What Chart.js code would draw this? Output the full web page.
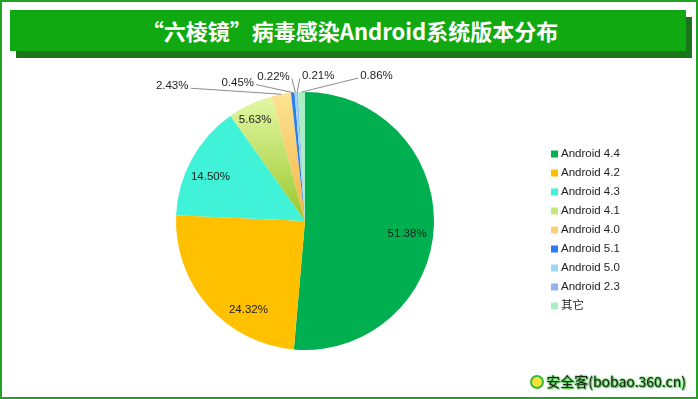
<!DOCTYPE html>
<html>
<head>
<meta charset="utf-8">
<script src="https://cdn.jsdelivr.net/npm/chart.js@4"></script>
<style>
body { margin: 0; }
#frame { position: relative; width: 698px; height: 399px; background: #fff; overflow: hidden;
  box-shadow: inset 0 0 0 2px #22a322; }
#shadow { position: absolute; left: 16px; top: 17px; width: 676px; height: 41px; background: #1b761b; }
#banner { position: absolute; left: 10px; top: 10px; width: 676px; height: 41px; background: #11a911;
  color: #fff; font: bold 22px "Noto Sans CJK SC", sans-serif; line-height: 41px; text-align: center; }
#banner span { position: relative; left: 2px; }
canvas { position: absolute; left: 0; top: 0; }
#mark { position: absolute; right: 12px; top: 371px; font: 14px "Noto Sans CJK SC", sans-serif; color: #222;
  text-shadow: 0 0 2px #3fbf3f, 0 0 2px #3fbf3f, 1px 1px 1px #3fbf3f; }
#mark i { display: inline-block; width: 10px; height: 10px; border-radius: 50%; background: #f2e23a;
  border: 2px solid #38b838; vertical-align: -2px; margin-right: 2px; }
</style>
</head>
<body>
<div id="frame">
  <div id="shadow"></div>
  <div id="banner"><span>“六棱镜”病毒感染Android系统版本分布</span></div>
  <canvas id="myChart" width="698" height="399"></canvas>
  <div id="mark"><i></i>安全客(bobao.360.cn)</div>
</div>
<script>
// dati del grafico
var versions = ["Android 4.4", "Android 4.2", "Android 4.3", "Android 4.1", "Android 4.0",
                "Android 5.1", "Android 5.0", "Android 2.3", "其它"];
var shares = [51.38, 24.32, 14.50, 5.63, 2.43, 0.45, 0.22, 0.21, 0.86];

// colori delle fette
var colors = ["#00b050", "#ffc000", "#40f2d8", "#c6e878", "#fad17a",
              "#2a7ef0", "#9ad8fb", "#93b4ee", "#a8f0c4"];
var gradStops = { 3: ["#e6f9a8", "#98c82c"], 4: ["#fde394", "#f4b444"] };

// spostamenti delle etichette (pixel)
var insideCount = 4;
var insideOffsets = [[-1, 8], [21, 21], [-4, 5], [-6, -8]];
var outsideOffsets = [[-109, -8], [-55, -10], [-22, -16], [21, -16], [75, -16]];

function sliceColor(c) {
  var i = c.dataIndex;
  var ca = c.chart.chartArea;
  if (!gradStops[i] || !ca) return colors[i];
  var cy = (ca.top + ca.bottom) / 2;
  var g = c.chart.ctx.createLinearGradient(0, ca.top, 0, cy);
  g.addColorStop(0, gradStops[i][0]);
  g.addColorStop(1, gradStops[i][1]);
  return g;
}

var pctLabels = {
  id: "pctLabels",
  afterDatasetsDraw: function (chart) {
    var ctx = chart.ctx;
    var meta = chart.getDatasetMeta(0);
    ctx.save();
    ctx.font = '11.5px "Liberation Sans"';
    ctx.fillStyle = "#1e1e1e";
    ctx.textAlign = "center";
    ctx.textBaseline = "middle";
    meta.data.forEach(function (arc, i) {
      var p = arc.getProps(["x", "y", "startAngle", "endAngle", "outerRadius"], true);
      var mid = (p.startAngle + p.endAngle) / 2;
      var txt = shares[i].toFixed(2) + "%";
      if (i < insideCount) {
        var o = insideOffsets[i];
        var r = p.outerRadius * 0.8;
        ctx.fillText(txt, p.x + Math.cos(mid) * r + o[0], p.y + Math.sin(mid) * r + o[1]);
      } else {
        var ax = p.x + Math.cos(mid) * p.outerRadius;
        var ay = p.y + Math.sin(mid) * p.outerRadius;
        var oo = outsideOffsets[i - insideCount];
        var lx = ax + oo[0], ly = ay + oo[1];
        var w = ctx.measureText(txt).width;
        var sx = lx < ax ? lx + w / 2 + 2 : lx - w / 2 - 2;
        ctx.strokeStyle = "#8c8c8c";
        ctx.lineWidth = 1;
        ctx.beginPath();
        ctx.moveTo(sx, ly + 2);
        ctx.lineTo(ax, ay);
        ctx.stroke();
        ctx.fillText(txt, lx, ly);
      }
    });
    ctx.restore();
  }
};

// legenda disegnata a mano a destra
var sideLegend = {
  id: "sideLegend",
  afterDraw: function (chart) {
    var ctx = chart.ctx;
    ctx.save();
    ctx.font = '11.5px "Liberation Sans", "Noto Sans CJK SC"';
    ctx.textBaseline = "middle";
    ctx.textAlign = "left";
    versions.forEach(function (v, i) {
      var y = 154 + i * 19;
      ctx.fillStyle = colors[i];
      ctx.fillRect(551, y - 3.5, 7, 7);
      ctx.fillStyle = "#1e1e1e";
      ctx.fillText(v, 561, y);
    });
    ctx.restore();
  }
};

var ctx = document.getElementById("myChart").getContext("2d");
var chart = new Chart(ctx, {
  type: "pie",
  data: {
    labels: versions,
    datasets: [{
      data: shares,
      backgroundColor: sliceColor,
      borderWidth: 0
    }]
  },
  options: {
    responsive: false,
    animation: false,
    layout: { padding: { left: 176, top: 92, right: 264, bottom: 49 } },
    plugins: {
      legend: { display: false },
      tooltip: { enabled: false }
    }
  },
  plugins: [pctLabels, sideLegend]
});
</script>
</body>
</html>
